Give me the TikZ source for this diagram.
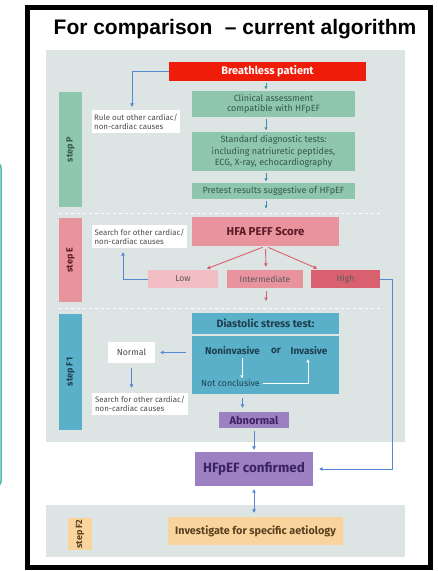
\documentclass[tikz,border=0pt]{standalone}
\usepackage{fontspec}
\setmainfont{Liberation Sans}
\newfontfamily\bxf{Fira Sans}
\usetikzlibrary{arrows.meta}
\definecolor{panel}{HTML}{DDE4E4}
\definecolor{bred}{HTML}{F01C0A}
\definecolor{bgreen}{HTML}{8EC6AE}
\definecolor{tgreen}{HTML}{35594B}
\definecolor{bpink}{HTML}{E8939E}
\definecolor{blow}{HTML}{F2BDC3}
\definecolor{bhigh}{HTML}{D9616F}
\definecolor{tpink}{HTML}{5B1A26}
\definecolor{parr}{HTML}{D9606E}
\definecolor{bblue}{HTML}{5AB0C8}
\definecolor{tblue}{HTML}{1E3F50}
\definecolor{bpurp}{HTML}{9C80C2}
\definecolor{tpurp}{HTML}{3B2363}
\definecolor{bpeach}{HTML}{F9D49C}
\definecolor{tpeach}{HTML}{5A4020}
\definecolor{carr}{HTML}{5588D0}
\definecolor{tarr}{HTML}{3A8FA8}
\definecolor{sliver}{HTML}{4FB8B0}
\tikzset{
  box/.style={rectangle, inner sep=0pt, align=center, font=\bxf},
  stepbox/.style={rectangle, inner sep=0pt, minimum width=23pt, font=\bxf\bfseries\fontsize{9}{10}\selectfont},
  wbox/.style={box, fill=white, text=black!70, font=\bxf\fontsize{7.9}{9.2}\selectfont, align=left},
  conn/.style={draw=carr, line width=0.8pt, -{Triangle[length=3.5pt,width=3.5pt]}},
  tconn/.style={draw=tarr, line width=0.8pt, -{Triangle[length=3pt,width=3pt]}, shorten <=1.5pt, shorten >=1.5pt},
  pconn/.style={draw=parr, line width=0.9pt, -{Triangle[length=3.5pt,width=3.5pt]}},
  wconn/.style={draw=white, line width=0.9pt, -{Triangle[length=3pt,width=3pt]}},
  dline/.style={draw=white, line width=1pt, dash pattern=on 3pt off 3pt}
}
\begin{document}
\begin{tikzpicture}[x=1pt,y=-1pt]
\useasboundingbox (0,0) rectangle (437,571);
\fill[white] (0,0) rectangle (437,571);
\begin{scope}
\clip (0,0) rectangle (437,571);
\draw[sliver, line width=1.5pt, rounded corners=6pt] (-40,162) rectangle (1,487);
\end{scope}
% frame
\draw[black, line width=5pt] (27,7.5) rectangle (430,567);
\node[font=\bfseries\fontsize{21}{24}\selectfont] (title) at (235,29) {For comparison\hspace{0.6em}– current algorithm};
% panels
\fill[panel] (46,50) rectangle (405,442);
\fill[panel] (46,505) rectangle (405,557);
% dashed separators
\coordinate (d1a) at (59,213); \coordinate (d1b) at (382,213);
\coordinate (d2a) at (59,308); \coordinate (d2b) at (382,308);
\draw[dline] (d1a) -- (d1b);
\draw[dline] (d2a) -- (d2b);
% step sidebars
\node[stepbox, fill=bgreen, minimum height=115pt, text=tgreen] (stepP) at (70.5,149.5) {\rotatebox{90}{step P}};
\node[stepbox, fill=bpink, minimum height=84pt, text=tpink] (stepE) at (70.5,260) {\rotatebox{90}{step E}};
\node[stepbox, fill=bblue, minimum height=116pt, text=tblue] (stepF1) at (70.5,372) {\rotatebox{90}{step F1}};
\node[stepbox, fill=bpeach, minimum width=24pt, minimum height=32pt, text=tpeach] (stepF2) at (80,534) {\rotatebox{90}{step F2}};
% step P boxes
\node[box, fill=bred, text=white, minimum width=197pt, minimum height=19pt, font=\bxf\bfseries\fontsize{11}{12}\selectfont] (bp) at (267.5,71.5) {Breathless patient};
\node[box, fill=bgreen, text=tgreen, minimum width=163pt, minimum height=26pt, font=\bxf\fontsize{9}{10.8}\selectfont] (ca) at (273.5,104) {Clinical assessment\\compatible with HFpEF};
\node[box, fill=bgreen, text=tgreen, minimum width=163pt, minimum height=39pt, font=\bxf\fontsize{9}{11.2}\selectfont] (sdt) at (273.5,151.5) {Standard diagnostic tests:\\including natriuretic peptides,\\ECG, X-ray, echocardiography};
\node[box, fill=bgreen, text=tgreen, minimum width=163pt, minimum height=16pt, font=\bxf\fontsize{9}{10.8}\selectfont] (pr) at (273.5,191) {Pretest results suggestive of HFpEF};
\node[wbox, minimum width=88pt, minimum height=23pt] (rule) at (136,121.5) {Rule out other cardiac/\\non-cardiac causes};
\coordinate (ax) at (266,0);
\coordinate (pend) at (266,210);
\draw[tconn] (bp.south -| ax) -- (ca.north -| ax);
\draw[tconn] (ca.south -| ax) -- (sdt.north -| ax);
\draw[tconn] (sdt.south -| ax) -- (pr.north -| ax);
\draw[tconn] (pr.south -| ax) -- (pend);
\coordinate (rx) at (132,0);
\draw[conn, shorten >=3pt] (bp.west) -| (rule.north -| rx);
% step E
\node[box, fill=bpink, text=tpink, minimum width=147pt, minimum height=29pt, font=\bxf\bfseries\fontsize{11.4}{13}\selectfont] (hfa) at (265.5,231.5) {HFA PEFF Score};
\node[wbox, minimum width=95pt, minimum height=23pt] (s1) at (139.5,236.5) {Search for other cardiac/\\non-cardiac causes};
\node[box, fill=blow, text=black!65, minimum width=70pt, minimum height=18pt, font=\bxf\fontsize{8.6}{10}\selectfont] (low) at (183,279) {Low};
\node[box, fill=bpink, text=black!65, minimum width=76pt, minimum height=18pt, font=\bxf\fontsize{8.6}{10}\selectfont] (inter) at (265,279) {Intermediate};
\node[box, fill=bhigh, text=black!65, minimum width=69pt, minimum height=18pt, font=\bxf\fontsize{8.6}{10}\selectfont] (high) at (345.5,279) {High};
\coordinate (lx) at (204,0);
\coordinate (hx2) at (320,0);
\coordinate (ie) at (266,301);
\draw[pconn, shorten <=3pt, shorten >=3pt] (hfa.south) -- (low.north -| lx);
\draw[pconn, shorten <=3pt, shorten >=3pt] (hfa.south) -- (inter.north -| ax);
\draw[pconn, shorten <=3pt, shorten >=3pt] (hfa.south) -- (high.north -| hx2);
\draw[pconn, shorten <=3pt] (inter.south -| ax) -- (ie);
\coordinate (lowx) at (123,0);
\draw[conn, shorten >=4pt] (low.west) -| (s1.south -| lowx);
% step F1
\node[box, fill=bblue, text=tblue, minimum width=147pt, minimum height=21pt, font=\bxf\bfseries\fontsize{10.6}{12}\selectfont] (dst) at (265.5,323.5) {Diastolic stress test:};
\node[box, fill=bblue, minimum width=147pt, minimum height=58pt] (dsb) at (265.5,365) {};
\node[box, text=tblue, font=\bxf\bfseries\fontsize{9.9}{11}\selectfont] (nonin) at (232.5,351) {Noninvasive};
\node[box, text=tblue, font=\bxf\bfseries\fontsize{9.9}{11}\selectfont] (orr) at (276,351) {or};
\node[box, text=tblue, font=\bxf\bfseries\fontsize{9.9}{11}\selectfont] (inv) at (309,351) {Invasive};
\node[box, text=tblue, font=\bxf\fontsize{8.8}{10}\selectfont] (nc) at (230.5,383) {Not conclusive};
\coordinate (wx) at (242,0);
\coordinate (ix) at (308,0);
\draw[wconn, shorten <=3pt, shorten >=1pt] (nonin.south -| wx) -- (nc.north -| wx);
\draw[wconn, shorten <=3pt, shorten >=4pt] (nc.east) -| (inv.south -| ix);
\node[wbox, align=center, minimum width=47pt, minimum height=21pt, font=\bxf\fontsize{8.8}{10}\selectfont] (normal) at (131.5,352.5) {Normal};
\node[wbox, minimum width=96pt, minimum height=22pt] (s2) at (140,404) {Search for other cardiac/\\non-cardiac causes};
\draw[conn, shorten <=6pt, shorten >=5pt] (dsb.west |- normal.east) -- (normal.east);
\draw[conn, shorten <=5pt, shorten >=5pt] (normal.south) -- (normal.south |- s2.north);
\node[box, fill=bpurp, text=tpurp, minimum width=70pt, minimum height=16pt, font=\bxf\bfseries\fontsize{11}{12}\selectfont] (abn) at (254,420) {Abnormal};
\coordinate (dx) at (242.5,0);
\draw[conn, shorten <=4pt, shorten >=4pt] (dsb.south -| dx) -- (abn.north -| dx);
% confirmed
\node[box, fill=bpurp, text=tpurp, minimum width=118pt, minimum height=34pt, font=\bxf\bfseries\fontsize{13.4}{15}\selectfont] (hfpef) at (254,469) {HFpEF confirmed};
\draw[conn, shorten <=3pt, shorten >=2pt] (abn.south) -- (hfpef.north);
\coordinate (hx) at (392,0);
\draw[conn, shorten >=6pt] (high.east) -| (hx |- hfpef.east) -- (hfpef.east);
% step F2
\node[box, fill=bpeach, text=tpeach, minimum width=175pt, minimum height=28pt, font=\bxf\bfseries\fontsize{10.8}{12}\selectfont] (inv2) at (255.5,531) {Investigate for specific aetiology};
\draw[conn, {Triangle[length=3.5pt,width=3.5pt]}-{Triangle[length=3.5pt,width=3.5pt]}, shorten <=3pt, shorten >=4pt] (hfpef.south) -- (hfpef.south |- inv2.north);
\end{tikzpicture}
\end{document}
